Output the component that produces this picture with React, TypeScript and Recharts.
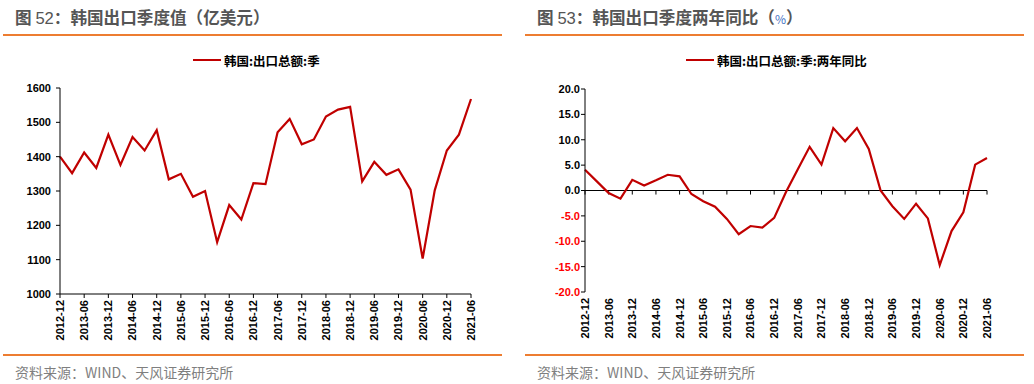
import React from 'react';
import { LineChart, Line, XAxis, YAxis, ReferenceLine } from 'recharts';

const quarters = [
  '2012-12',
  '2013-03', '2013-06', '2013-09', '2013-12',
  '2014-03', '2014-06', '2014-09', '2014-12',
  '2015-03', '2015-06', '2015-09', '2015-12',
  '2016-03', '2016-06', '2016-09', '2016-12',
  '2017-03', '2017-06', '2017-09', '2017-12',
  '2018-03', '2018-06', '2018-09', '2018-12',
  '2019-03', '2019-06', '2019-09', '2019-12',
  '2020-03', '2020-06', '2020-09', '2020-12',
  '2021-03', '2021-06',
];

const exportValues = [
  1400, 1352, 1412, 1367, 1464, 1376, 1457, 1418, 1477, 1334, 1350, 1283,
  1300, 1151, 1259, 1217, 1323, 1320, 1471, 1510, 1436, 1450, 1517, 1537,
  1545, 1328, 1385, 1347, 1363, 1304, 1103, 1302, 1418, 1464, 1568,
];

const yoyValues = [
  4.1, 1.8, -0.5, -1.6, 2.1, 1.0, 2.0, 3.1, 2.8, -0.7, -2.1, -3.2,
  -5.6, -8.6, -7.0, -7.3, -5.4, -0.3, 4.2, 8.6, 5.1, 12.3, 9.7, 12.3,
  8.2, 0.0, -3.1, -5.6, -2.6, -5.5, -14.7, -8.0, -4.3, 5.1, 6.4,
];

const leftTicks = [1000, 1100, 1200, 1300, 1400, 1500, 1600];
const rightTicks = [-20, -15, -10, -5, 0, 5, 10, 15, 20];

const leftTitleNum = '52';
const leftTitleText = '：韩国出口季度值（亿美元）';
const rightTitleNum = '53';
const rightTitleText = '：韩国出口季度两年同比（';
const leftLegend = '韩国:出口总额:季';
const rightLegend = '韩国:出口总额:季:两年同比';
const sourceText = '资料来源：WIND、天风证券研究所';

const leftData = quarters.map((q, i) => ({ q, v: exportValues[i] }));
const rightData = quarters.map((q, i) => ({ q, v: yoyValues[i] }));
const labeledQuarters = quarters.filter((_, i) => i % 2 === 0);

const LATIN = '"Liberation Sans", Arial, "Noto Sans CJK SC", sans-serif';
const CJK = '"Noto Sans CJK SC", "Liberation Sans", sans-serif';
const RED = '#C00000';
const ORANGE = '#ED7D31';
const TICK_UNITS = 0.8;

const RotTick = (props: any) => {
  const { x, y, payload } = props;
  return (
    <text
      x={x}
      y={y}
      transform={`rotate(-90, ${x}, ${y})`}
      textAnchor="end"
      dy="0.36em"
      fontSize={11}
      fontWeight="bold"
      fontFamily={LATIN}
      fill="#000"
    >
      {payload.value}
    </text>
  );
};

const LeftYTick = (props: any) => {
  const { x, y, payload } = props;
  return (
    <text x={x} y={y} dy="0.36em" textAnchor="end" fontSize={11} fontWeight="bold" fontFamily={LATIN} fill="#000">
      {payload.value}
    </text>
  );
};

const RightYTick = (props: any) => {
  const { x, y, payload } = props;
  const v = Number(payload.value);
  return (
    <text
      x={x}
      y={y}
      dy="0.36em"
      textAnchor="end"
      fontSize={11}
      fontWeight="bold"
      fontFamily={LATIN}
      fill={v < 0 ? '#FF0000' : '#000'}
    >
      {v.toFixed(1)}
    </text>
  );
};

const Title = ({ left, num, text, suffix }: any) => (
  <div
    style={{
      position: 'absolute',
      left,
      top: 6,
      fontFamily: CJK,
      fontSize: 16.6,
      fontWeight: 'bold',
      color: '#555555',
      lineHeight: '22px',
      whiteSpace: 'nowrap',
    }}
  >
    图 <span style={{ fontWeight: 'normal', fontFamily: LATIN }}>{num}</span>
    {text}
    {suffix}
  </div>
);

const LegendItem = ({ left, label }: any) => (
  <div
    style={{
      position: 'absolute',
      left,
      top: 51,
      height: 18,
      display: 'flex',
      alignItems: 'center',
      whiteSpace: 'nowrap',
    }}
  >
    <div style={{ width: 28, height: 2, background: RED, marginRight: 3 }} />
    <span style={{ fontFamily: CJK, fontSize: 12.5, fontWeight: 'bold', color: '#000' }}>{label}</span>
  </div>
);

const HLine = ({ left, top, width }: any) => (
  <div style={{ position: 'absolute', left, top, width, height: 1.5, background: ORANGE }} />
);

const Source = ({ left }: any) => (
  <div
    style={{
      position: 'absolute',
      left,
      top: 362,
      fontFamily: CJK,
      fontSize: 14,
      color: '#7F7F7F',
      lineHeight: '20px',
      whiteSpace: 'nowrap',
    }}
  >
    {sourceText}
  </div>
);

export default function App() {
  return (
    <div style={{ position: 'absolute', left: 0, top: 0, width: 1034, height: 384, background: '#fff', overflow: 'hidden' }}>
      <Title left={15} num={leftTitleNum} text={leftTitleText} suffix="" />
      <Title
        left={537}
        num={rightTitleNum}
        text={rightTitleText}
        suffix={
          <>
            <span style={{ fontWeight: 'normal', fontSize: 12, color: '#4472C4' }}>%</span>）
          </>
        }
      />
      <HLine left={3} top={34} width={499} />
      <HLine left={525} top={34} width={499} />
      <HLine left={3} top={354} width={499} />
      <HLine left={525} top={354} width={499} />

      <LegendItem left={193} label={leftLegend} />
      <LegendItem left={686} label={rightLegend} />

      <Source left={15} />
      <Source left={537} />

      <div style={{ position: 'absolute', left: 0, top: 0 }}>
        <LineChart width={505} height={384} data={leftData} margin={{ top: 88, right: 34, bottom: 40, left: 10 }}>
          <XAxis
            dataKey="q"
            interval={1}
            height={50}
            tick={<RotTick />}
            tickSize={4}
            tickMargin={2}
            axisLine={{ stroke: '#000' }}
            tickLine={{ stroke: '#000' }}
            padding={{ left: 0, right: 0 }}
          />
          <YAxis
            domain={[1000, 1600]}
            ticks={leftTicks}
            width={50}
            tick={<LeftYTick />}
            tickSize={4}
            tickMargin={5}
            axisLine={{ stroke: '#000' }}
            tickLine={{ stroke: '#000' }}
            allowDataOverflow
          />
          <Line type="linear" dataKey="v" stroke={RED} strokeWidth={2.2} dot={false} isAnimationActive={false} />
        </LineChart>
      </div>

      <div style={{ position: 'absolute', left: 520, top: 0 }}>
        <LineChart width={514} height={384} data={rightData} margin={{ top: 89, right: 47, bottom: 42, left: 10 }}>
          <XAxis
            dataKey="q"
            interval={1}
            height={50}
            tick={<RotTick />}
            tickSize={4}
            tickMargin={2}
            axisLine={false}
            tickLine={false}
            padding={{ left: 0, right: 0 }}
          />
          <YAxis
            domain={[-20, 20]}
            ticks={rightTicks}
            width={55}
            tick={<RightYTick />}
            tickSize={4}
            tickMargin={1}
            axisLine={{ stroke: '#000' }}
            tickLine={{ stroke: '#000' }}
            allowDataOverflow
          />
          <ReferenceLine y={0} stroke="#000" strokeWidth={1} ifOverflow="extendDomain" />
          {labeledQuarters.map((q) => (
            <ReferenceLine
              key={q}
              segment={[{ x: q, y: 0 }, { x: q, y: -TICK_UNITS }]}
              stroke="#000"
              strokeWidth={1}
            />
          ))}
          <Line type="linear" dataKey="v" stroke={RED} strokeWidth={2.2} dot={false} isAnimationActive={false} />
        </LineChart>
      </div>
    </div>
  );
}
